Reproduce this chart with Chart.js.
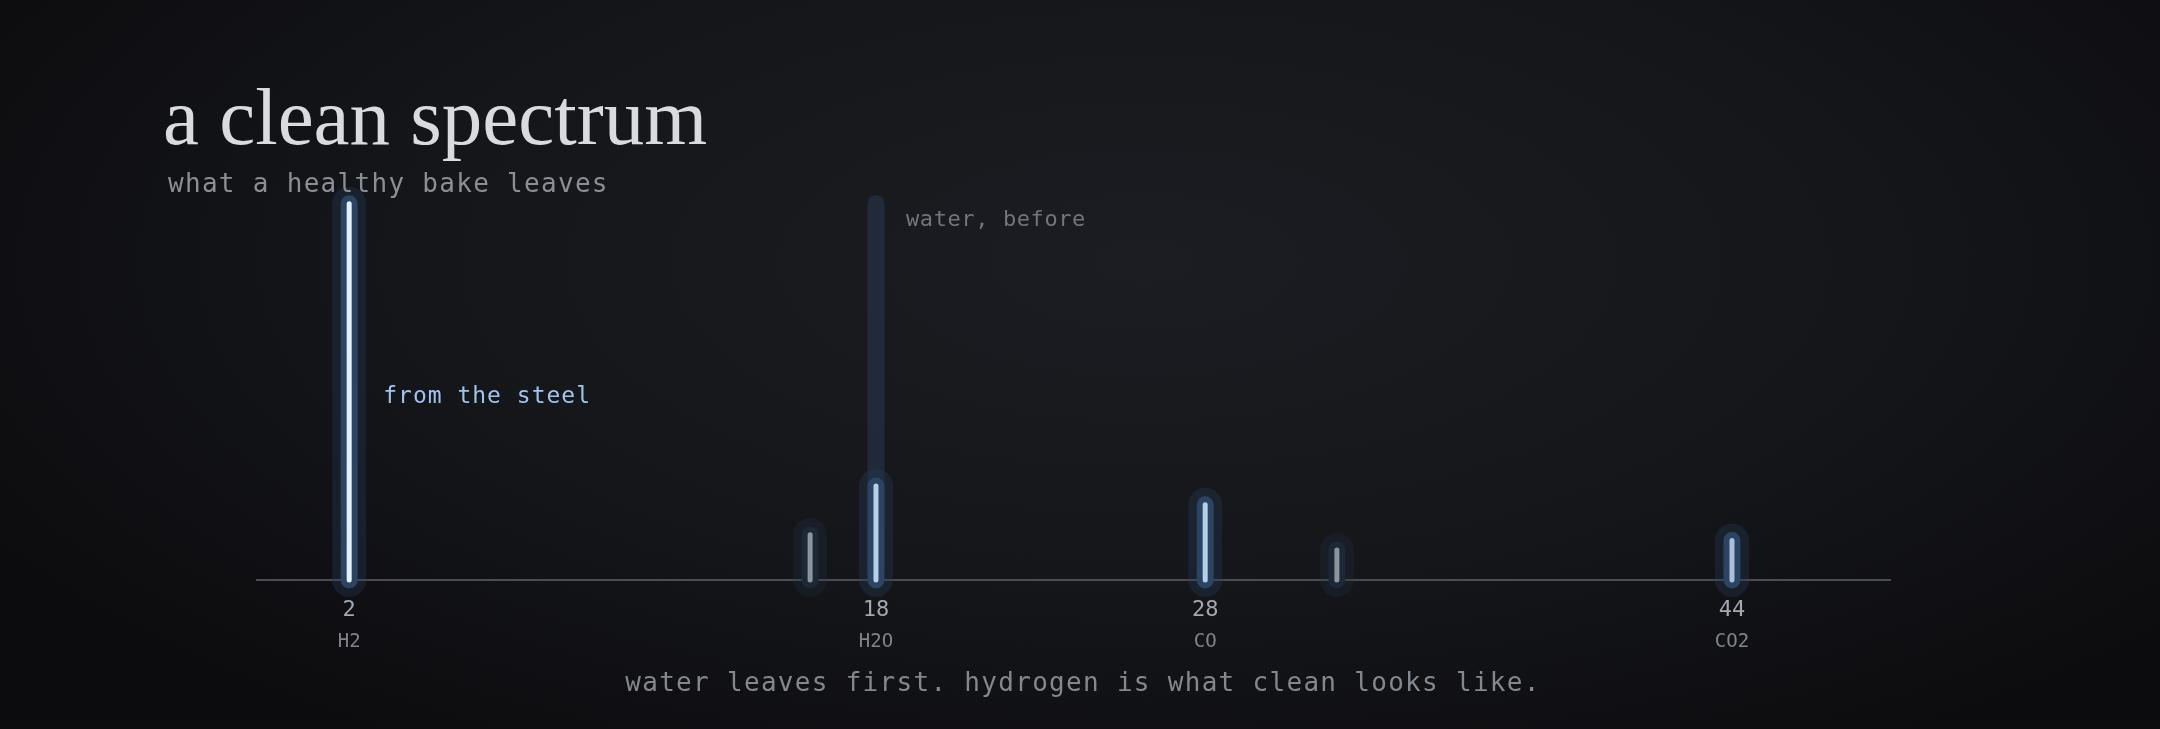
<!DOCTYPE html>
<html>
<head>
<meta charset="utf-8">
<title>a clean spectrum</title>
<script src="https://cdn.jsdelivr.net/npm/chart.js"></script>
<style>
    html, body {
        margin: 0;
        padding: 0;
        width: 2160px;
        height: 729px;
        overflow: hidden;
        background: radial-gradient(ellipse 62% 80% at 53% 36%, #1c1d22 0%, #15161a 55%, #0c0c0f 100%);
    }
    #wrap {
        position: absolute;
        left: 0;
        top: 0;
        width: 2160px;
        height: 729px;
    }
    .title {
        position: absolute;
        left: 163px;
        top: 77px;
        margin: 0;
        font-family: "Liberation Serif", serif;
        font-weight: normal;
        font-size: 81px;
        line-height: 1;
        color: #dadbe1;
    }
    .sub {
        position: absolute;
        left: 168px;
        top: 170px;
        font-family: "DejaVu Sans Mono", monospace;
        font-size: 26px;
        letter-spacing: 1.3px;
        line-height: 1;
        color: #8a8e95;
    }
    .foot {
        position: absolute;
        left: 0;
        width: 2166px;
        top: 669px;
        text-align: center;
        font-family: "DejaVu Sans Mono", monospace;
        font-size: 26px;
        letter-spacing: 1.3px;
        line-height: 1;
        color: #83878e;
    }
</style>
</head>
<body>
<div id="wrap">
    <canvas id="myChart"></canvas>
</div>
<h1 class="title">a clean spectrum</h1>
<div class="sub">what a healthy bake leaves</div>
<div class="foot">water leaves first. hydrogen is what clean looks like.</div>

<script>
// peaks after the bake (m/z, relative height)
const masses = [2, 16, 18, 28, 32, 44];
const intensities = [100, 12, 25, 20, 8, 10.5];

// the water peak before the bake, drawn as a ghost
const beforeMasses = [18];
const beforeIntensities = [100];

// labelled ticks
const tickMasses = [2, 18, 28, 44];
const tickFormulas = ["H2", "H2O", "CO", "CO2"];

// notes next to peaks
const noteTexts = ["from the steel", "water, before"];
const noteMasses = [2, 18];
const noteValues = [48.7, 95.7];

// note styles
const noteColors = ["#9fc3ec", "#71757d"];
const noteFonts = [23, 22];
const noteShift = [34, 30];
const mono = "'DejaVu Sans Mono', monospace";

function sticks(xs, ys) {
    const pts = [];
    for (let i = 0; i < xs.length; i++) {
        pts.push({ x: xs[i], y: 0 });
        pts.push({ x: xs[i], y: ys[i] });
        pts.push({ x: xs[i], y: null });
    }
    return pts;
}

function isLabelled(i) {
    return tickMasses.includes(masses[i]);
}

function coreColor(i) {
    if (intensities[i] >= 50) return "#e1f1ff";
    if (masses[i] === 44) return "#a9c0da";
    return isLabelled(i) ? "#b7d0ea" : "#8c949d";
}

function midColor(i) {
    return isLabelled(i) ? "#2b4461" : "#1d2836";
}

function outerColor(i) {
    return isLabelled(i) ? "rgba(38, 60, 90, 0.33)" : "rgba(38, 55, 80, 0.22)";
}

function stickLayer(width, colorFn) {
    return {
        data: sticks(masses, intensities),
        showLine: true,
        borderWidth: width,
        borderCapStyle: "round",
        pointRadius: 0,
        spanGaps: false,
        clip: false,
        segment: {
            borderColor: ctx => colorFn(Math.floor(ctx.p0DataIndex / 3))
        }
    };
}

const labelsPlugin = {
    id: "labels",
    afterDraw(chart) {
        const ctx = chart.ctx;
        const xs = chart.scales.x;
        const ys = chart.scales.y;
        ctx.save();
        // formulas under the mass ticks
        ctx.font = "19px " + mono;
        ctx.fillStyle = "#7f848b";
        ctx.textAlign = "center";
        ctx.textBaseline = "middle";
        tickFormulas.forEach((f, i) => {
            ctx.fillText(f, xs.getPixelForValue(tickMasses[i]), chart.chartArea.bottom + 62);
        });
        // notes
        ctx.textAlign = "left";
        noteTexts.forEach((t, i) => {
            ctx.font = noteFonts[i] + "px " + mono;
            ctx.letterSpacing = i === 0 ? "1px" : "0.6px";
            ctx.fillStyle = noteColors[i];
            ctx.fillText(t, xs.getPixelForValue(noteMasses[i]) + noteShift[i], ys.getPixelForValue(noteValues[i]));
        });
        ctx.restore();
    }
};

function renderGrafica() {
    const config = {
        type: "scatter",
        data: {
            datasets: [
                stickLayer(5, coreColor),
                stickLayer(17, midColor),
                stickLayer(34, outerColor),
                {
                    data: sticks(beforeMasses, beforeIntensities),
                    showLine: true,
                    borderWidth: 17,
                    borderCapStyle: "round",
                    borderColor: "rgba(42, 60, 86, 0.48)",
                    pointRadius: 0,
                    clip: false
                }
            ]
        },
        options: {
            responsive: true,
            maintainAspectRatio: false,
            animation: false,
            layout: {
                padding: { left: 257, right: 270, top: 166, bottom: 0 }
            },
            plugins: {
                legend: { display: false },
                tooltip: { enabled: false }
            },
            scales: {
                x: {
                    type: "linear",
                    min: -0.8,
                    max: 48.8,
                    grid: { display: false, drawTicks: false },
                    border: { color: "#4b4c52", width: 2 },
                    afterBuildTicks: scale => {
                        scale.ticks = tickMasses.map(v => ({ value: v }));
                    },
                    afterFit: scale => {
                        scale.height = 149;
                    },
                    ticks: {
                        color: "#a3a7ae",
                        font: { family: mono, size: 22 },
                        padding: 17,
                        maxRotation: 0,
                        autoSkip: false,
                        callback: v => v
                    }
                },
                y: {
                    display: false,
                    min: 0,
                    max: 110
                }
            }
        },
        plugins: [labelsPlugin]
    };
    new Chart(document.getElementById("myChart"), config);
}

renderGrafica();
</script>
</body>
</html>
